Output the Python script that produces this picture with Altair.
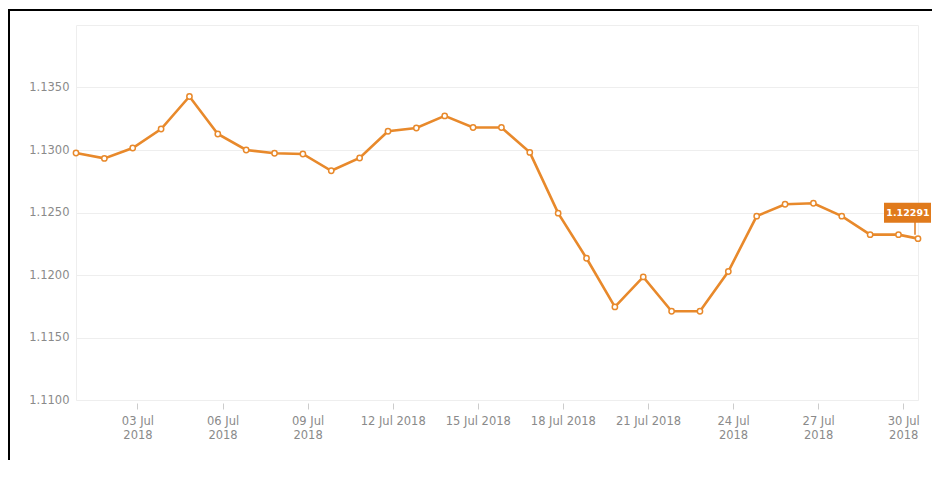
import altair as alt
import pandas as pd

# ---- data ----
dates = [
    "2018-06-30T20:00", "2018-07-01T20:00", "2018-07-02T20:00", "2018-07-03T20:00",
    "2018-07-04T20:00", "2018-07-05T20:00", "2018-07-06T20:00", "2018-07-07T20:00",
    "2018-07-08T20:00", "2018-07-09T20:00", "2018-07-10T20:00", "2018-07-11T20:00",
    "2018-07-12T20:00", "2018-07-13T20:00", "2018-07-14T20:00", "2018-07-15T20:00",
    "2018-07-16T20:00", "2018-07-17T20:00", "2018-07-18T20:00", "2018-07-19T20:00",
    "2018-07-20T20:00", "2018-07-21T20:00", "2018-07-22T20:00", "2018-07-23T20:00",
    "2018-07-24T20:00", "2018-07-25T20:00", "2018-07-26T20:00", "2018-07-27T20:00",
    "2018-07-28T20:00", "2018-07-29T20:00", "2018-07-30T12:30",
]
rates = [
    1.12976, 1.12933, 1.13016, 1.13168, 1.13428, 1.13128, 1.13000, 1.12974,
    1.12968, 1.12834, 1.12936, 1.13150, 1.13176, 1.13273, 1.13180, 1.13180,
    1.12981, 1.12495, 1.12134, 1.11745, 1.11985, 1.11710, 1.11710, 1.12028,
    1.12471, 1.12566, 1.12574, 1.12471, 1.12323, 1.12323, 1.12291,
]
y_ticks = [1.1100, 1.1150, 1.1200, 1.1250, 1.1300, 1.1350]
y_domain = [1.11, 1.14]
tick_days = [3, 6, 9, 12, 15, 18, 21, 24, 27, 30]

ORANGE = "#E8892B"
BOX = "#E07A1C"
GREY = "#8a8a8a"
FONT = "DejaVu Sans"

df = pd.DataFrame({"date": dates, "value": rates})
last_df = df.tail(1)

x_enc = alt.X(
    "date:T",
    title=None,
    scale=alt.Scale(nice=False),
    axis=alt.Axis(
        values=[alt.DateTime(year=2018, month=7, date=d) for d in tick_days],
        labelExpr="(date(datum.value) >= 12 && date(datum.value) <= 21) ? timeFormat(datum.value, '%d %b %Y') : [timeFormat(datum.value, '%d %b'), timeFormat(datum.value, '%Y')]",
        grid=False,
        domain=False,
        offset=3,
        tickSize=6,
        tickColor="#cccccc",
        labelPadding=6,
        labelFontSize=11.5,
        labelLineHeight=14,
        labelColor=GREY,
        labelFont=FONT,
        labelOverlap=False,
        labelFlush=False,
    ),
)
y_enc = alt.Y(
    "value:Q",
    title=None,
    scale=alt.Scale(domain=y_domain, nice=False, zero=False),
    axis=alt.Axis(
        values=y_ticks,
        format=".4f",
        domain=False,
        ticks=False,
        grid=True,
        gridColor="#eeeeee",
        labelPadding=7,
        labelFontSize=11.5,
        labelColor=GREY,
        labelFont=FONT,
    ),
)

base = alt.Chart(df)
line = base.mark_line(color=ORANGE, strokeWidth=2.6).encode(x=x_enc, y=y_enc)
pts = base.mark_point(
    shape="circle", filled=True, fill="white", stroke=ORANGE,
    strokeWidth=1.5, size=28, opacity=1,
).encode(x="date:T", y="value:Q")

last = alt.Chart(last_df)
stem = last.mark_rule(color=BOX, strokeWidth=1.5, xOffset=-3, yOffset=-17, y2Offset=-4).encode(
    x="date:T", y="value:Q", y2="value:Q"
)
box = last.mark_rect(
    color=BOX, xOffset=-34, x2Offset=13, yOffset=-36, y2Offset=-16
).encode(x="date:T", x2="date:T", y="value:Q", y2="value:Q")
txt = last.mark_text(
    color="white", fontWeight="bold", fontSize=9.5, font=FONT, dx=-10, dy=-26
).encode(x="date:T", y="value:Q", text=alt.Text("value:Q", format=".5f"))

frame_left = last.mark_rule(color="black", strokeWidth=2).encode(
    x=alt.value(-67), y=alt.value(-16), y2=alt.value(450)
)
frame_top = last.mark_rule(color="black", strokeWidth=2).encode(
    x=alt.value(-68), x2=alt.value(900), y=alt.value(-15)
)

chart = (
    alt.layer(line, pts, stem, box, txt, frame_left, frame_top)
    .properties(
        width=842,
        height=375,
        autosize=alt.AutoSizeParams(type="none"),
        padding={"left": 68, "top": 17, "right": 14, "bottom": 60},
        background="white",
    )
    .configure_view(stroke="#eeeeee")
)

chart.save("out.html", embed_options={"renderer": "svg", "actions": False})
